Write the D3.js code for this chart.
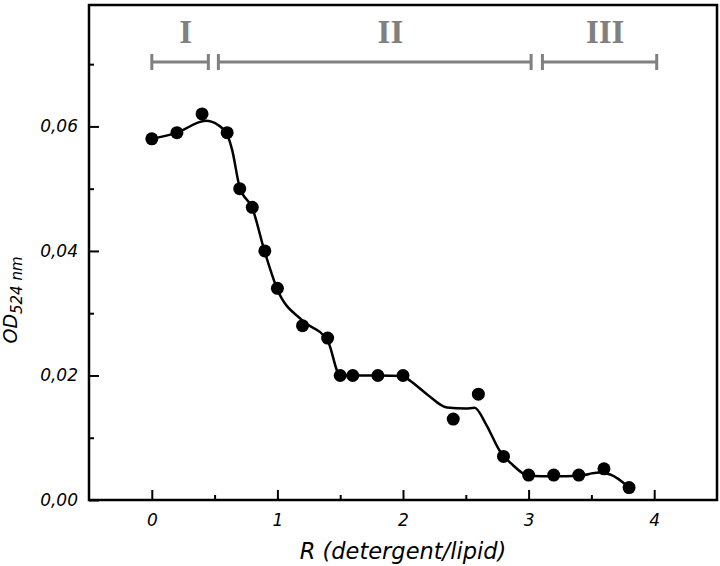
<!DOCTYPE html>
<html>
<head>
<meta charset="utf-8">
<script src="https://cdn.jsdelivr.net/npm/d3@7"></script>
<style>
  body { margin: 0; background: #fff; }
  svg { display: block; }
</style>
</head>
<body>
<svg id="chart" width="720" height="566"></svg>
<script>
  // measured points
  var R_VALUES = [0, 0.2, 0.4, 0.6, 0.7, 0.8, 0.9, 1.0, 1.2, 1.4, 1.5, 1.6, 1.8, 2.0, 2.4, 2.6, 2.8, 3.0, 3.2, 3.4, 3.6, 3.8]
  var OD_VALUES = [0.058, 0.059, 0.062, 0.059, 0.050, 0.047, 0.040, 0.034, 0.028, 0.026, 0.020, 0.020, 0.020, 0.020, 0.013, 0.017, 0.007, 0.004, 0.004, 0.004, 0.005, 0.002]

  // smoothed curve
  var FIT_R = [0, 0.2, 0.43, 0.53, 0.6, 0.64, 0.7, 0.8, 0.9, 1.0, 1.2, 1.4, 1.5, 1.6, 1.8, 2.0, 2.06, 2.19, 2.35, 2.5, 2.57, 2.66, 2.77, 2.87, 3.0, 3.2, 3.4, 3.56, 3.65, 3.8]
  var FIT_OD = [0.058, 0.059, 0.0609, 0.0602, 0.0587, 0.0562, 0.0502, 0.0469, 0.0398, 0.0338, 0.0288, 0.0256, 0.020, 0.020, 0.020, 0.0199, 0.0191, 0.0170, 0.01485, 0.0147, 0.0148, 0.0122, 0.0079, 0.0057, 0.0039, 0.0038, 0.0039, 0.0044, 0.0041, 0.002]

  // regions on top
  var REGION_LABELS = ['I', 'II', 'III']
  var REGION_START = [0, 0.53, 3.11]
  var REGION_END = [0.45, 3.02, 4.02]
  var REGION_LABEL_AT = [0.27, 1.9, 3.61]

  var X_TICKS = [0, 1, 2, 3, 4]
  var X_MINOR = [0.5, 1.5, 2.5, 3.5]
  var Y_TICKS = [0, 0.02, 0.04, 0.06]
  var Y_MINOR = [0.01, 0.03, 0.05, 0.07]

  var LEFT = 89, RIGHT = 717, TOP = 5, BOTTOM = 500
  var FONT = '"DejaVu Sans", Verdana, sans-serif'
  var GRAY = '#808080'

  var svg = d3.select('#chart')
  var x = d3.scaleLinear().domain([-0.5, 4.5]).range([LEFT, RIGHT])
  var y = d3.scaleLinear().domain([0, 0.0795]).range([BOTTOM, TOP])

  function comma (v) { return d3.format('.2f')(v).replace('.', ',') }

  // axes (ticks point inward)
  var xAxis = svg.append('g').attr('transform', 'translate(0,' + BOTTOM + ')')
    .call(d3.axisBottom(x).tickValues(X_TICKS).tickSize(-10).tickPadding(14).tickFormat(d3.format('d')))
  var xMinor = svg.append('g').attr('transform', 'translate(0,' + BOTTOM + ')')
    .call(d3.axisBottom(x).tickValues(X_MINOR).tickSize(-5).tickFormat(''))
  var yAxis = svg.append('g').attr('transform', 'translate(' + LEFT + ',0)')
    .call(d3.axisLeft(y).tickValues(Y_TICKS).tickSize(-10).tickPadding(11).tickFormat(comma))
  var yMinor = svg.append('g').attr('transform', 'translate(' + LEFT + ',0)')
    .call(d3.axisLeft(y).tickValues(Y_MINOR).tickSize(-5).tickFormat(''))

  ;[xAxis, xMinor, yAxis, yMinor].forEach(function (g) {
    g.select('.domain').remove()
    g.selectAll('.tick line').attr('stroke', '#000').attr('stroke-width', 2)
    g.selectAll('.tick text')
      .attr('fill', '#000')
      .style('font-family', FONT)
      .style('font-style', 'italic')
      .style('font-size', '17px')
  })

  // frame
  svg.append('rect')
    .attr('x', LEFT).attr('y', TOP)
    .attr('width', RIGHT - LEFT).attr('height', BOTTOM - TOP)
    .attr('fill', 'none').attr('stroke', '#000').attr('stroke-width', 2.5)

  // fitted curve
  var line = d3.line()
    .x(function (d, i) { return x(FIT_R[i]) })
    .y(function (d) { return y(d) })
    .curve(d3.curveMonotoneX)
  svg.append('path')
    .attr('d', line(FIT_OD))
    .attr('fill', 'none').attr('stroke', '#000').attr('stroke-width', 2.5)

  // points
  svg.append('g').selectAll('circle')
    .data(OD_VALUES)
    .enter().append('circle')
    .attr('cx', function (d, i) { return x(R_VALUES[i]) })
    .attr('cy', function (d) { return y(d) })
    .attr('r', 6.5)
    .attr('fill', '#000')

  // region brackets
  var BRACKET_Y = 62
  var regions = svg.append('g')
  REGION_LABELS.forEach(function (label, i) {
    var x0 = x(REGION_START[i]), x1 = x(REGION_END[i])
    regions.append('line')
      .attr('x1', x0).attr('x2', x1).attr('y1', BRACKET_Y).attr('y2', BRACKET_Y)
      .attr('stroke', GRAY).attr('stroke-width', 3)
    ;[x0, x1].forEach(function (xx) {
      regions.append('line')
        .attr('x1', xx).attr('x2', xx).attr('y1', BRACKET_Y - 8).attr('y2', BRACKET_Y + 8)
        .attr('stroke', GRAY).attr('stroke-width', 3)
    })
    regions.append('text')
      .attr('x', x(REGION_LABEL_AT[i])).attr('y', 43)
      .attr('text-anchor', 'middle')
      .attr('fill', GRAY)
      .style('font-family', '"Liberation Serif", "Times New Roman", serif')
      .style('font-weight', 'bold')
      .style('font-size', '33px')
      .text(label)
  })

  // axis titles
  svg.append('text')
    .attr('x', 403).attr('y', 559)
    .attr('text-anchor', 'middle')
    .style('font-family', FONT).style('font-style', 'italic').style('font-size', '22.5px')
    .text('R (detergent/lipid)')

  var yTitle = svg.append('text')
    .attr('transform', 'translate(17,300) rotate(-90)')
    .attr('text-anchor', 'middle')
    .style('font-family', FONT).style('font-style', 'italic').style('font-size', '19px')
  yTitle.append('tspan').text('OD')
  yTitle.append('tspan').attr('dy', 5).style('font-size', '15px').text('524 nm')
</script>
</body>
</html>
